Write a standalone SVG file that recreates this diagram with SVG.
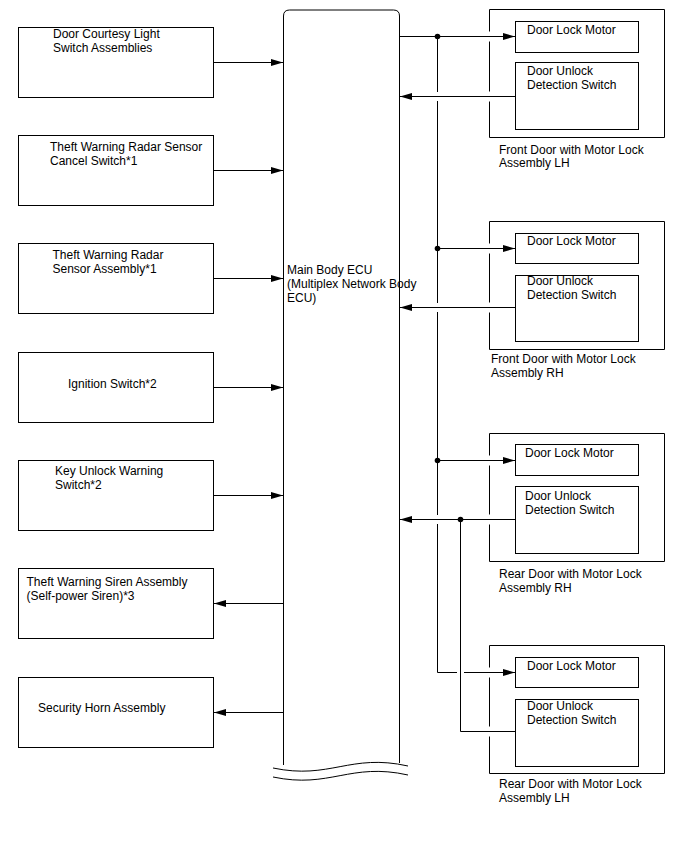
<svg xmlns="http://www.w3.org/2000/svg" width="688" height="852" viewBox="0 0 688 852">
<style>
.bx{fill:none;stroke:#000;stroke-width:1}
.ln{fill:none;stroke:#000;stroke-width:1}
.t{font-family:"Liberation Sans",Arial,sans-serif;font-size:12px;fill:#000}
.dot{fill:#000}
</style>
<defs>
<marker id="ah" markerUnits="userSpaceOnUse" markerWidth="13" markerHeight="8" refX="12" refY="4" orient="auto" viewBox="0 0 13 8">
<path d="M0,0.5 L12,4 L0,7.5 Z" fill="#000"/>
</marker>
</defs>
<rect width="688" height="852" fill="#fff"/>

<g id="ecu">
<path class="ln" d="M283.5,765 V16 Q283.5,10 289.5,10 H393.5 Q399.5,10 399.5,16 V763"/>
<path class="ln" d="M273,768 C330,780 350,753 408,766"/>
<path class="ln" d="M273,777 C330,789 350,762 408,775"/>
<text class="t" x="287" y="273.5">Main Body ECU</text>
<text class="t" x="287" y="287.5">(Multiplex Network Body</text>
<text class="t" x="287" y="301.5">ECU)</text>
</g>

<g id="door-courtesy">
<rect class="bx" x="18.5" y="27.5" width="195" height="70"/>
<text class="t" x="53" y="38">Door Courtesy Light</text>
<text class="t" x="53" y="52">Switch Assemblies</text>
</g>
<g id="radar-cancel">
<rect class="bx" x="18.5" y="135.5" width="195" height="70"/>
<text class="t" x="50" y="150.5">Theft Warning Radar Sensor</text>
<text class="t" x="50" y="164.5">Cancel Switch*1</text>
</g>
<g id="radar-sensor">
<rect class="bx" x="18.5" y="243.5" width="195" height="70"/>
<text class="t" x="52.5" y="258.5">Theft Warning Radar</text>
<text class="t" x="52.5" y="272.5">Sensor Assembly*1</text>
</g>
<g id="ignition">
<rect class="bx" x="18.5" y="352.5" width="195" height="70"/>
<text class="t" x="68" y="387.5">Ignition Switch*2</text>
</g>
<g id="key-unlock">
<rect class="bx" x="18.5" y="460.5" width="195" height="70"/>
<text class="t" x="55" y="475">Key Unlock Warning</text>
<text class="t" x="55" y="489">Switch*2</text>
</g>
<g id="siren">
<rect class="bx" x="18.5" y="568.5" width="195" height="70"/>
<text class="t" x="26.5" y="585.5">Theft Warning Siren Assembly</text>
<text class="t" x="26.5" y="599.5">(Self-power Siren)*3</text>
</g>
<g id="horn">
<rect class="bx" x="18.5" y="677.5" width="195" height="70"/>
<text class="t" x="38" y="711.5">Security Horn Assembly</text>
</g>

<g id="front-lh">
<path class="bx" d="M489.5,31.5 V9.5 H664.5 V137.5 H489.5 V101.5 M489.5,91.5 V41.5"/>
<rect class="bx" x="515.5" y="21.5" width="123" height="31"/>
<rect class="bx" x="515.5" y="62.5" width="123" height="67"/>
<text class="t" x="527" y="34">Door Lock Motor</text>
<text class="t" x="527" y="75">Door Unlock</text>
<text class="t" x="527" y="89">Detection Switch</text>
<text class="t" x="499" y="153.5">Front Door with Motor Lock</text>
<text class="t" x="499" y="167">Assembly LH</text>
</g>
<g id="front-rh">
<path class="bx" d="M489.5,243.5 V221.5 H664.5 V349.5 H489.5 V312.5 M489.5,302.5 V253.5"/>
<rect class="bx" x="515.5" y="233.5" width="123" height="30"/>
<rect class="bx" x="515.5" y="275.5" width="123" height="66"/>
<text class="t" x="527" y="244.5">Door Lock Motor</text>
<text class="t" x="527" y="284.5">Door Unlock</text>
<text class="t" x="527" y="298.5">Detection Switch</text>
<text class="t" x="491" y="363">Front Door with Motor Lock</text>
<text class="t" x="491" y="377">Assembly RH</text>
</g>
<g id="rear-rh">
<path class="bx" d="M489.5,455.5 V433.5 H664.5 V561.5 H489.5 V524.5 M489.5,514.5 V465.5"/>
<rect class="bx" x="515.5" y="444.5" width="123" height="31"/>
<rect class="bx" x="515.5" y="486.5" width="123" height="67"/>
<text class="t" x="525" y="457">Door Lock Motor</text>
<text class="t" x="525" y="499.5">Door Unlock</text>
<text class="t" x="525" y="513.5">Detection Switch</text>
<text class="t" x="499" y="577.5">Rear Door with Motor Lock</text>
<text class="t" x="499" y="591.5">Assembly RH</text>
</g>
<g id="rear-lh">
<path class="bx" d="M489.5,667.5 V645.5 H664.5 V773.5 H489.5 V736.5 M489.5,726.5 V677.5"/>
<rect class="bx" x="515.5" y="657.5" width="123" height="30"/>
<rect class="bx" x="515.5" y="699.5" width="123" height="67"/>
<text class="t" x="527" y="669.5">Door Lock Motor</text>
<text class="t" x="527" y="710">Door Unlock</text>
<text class="t" x="527" y="724">Detection Switch</text>
<text class="t" x="499" y="787.5">Rear Door with Motor Lock</text>
<text class="t" x="499" y="801.5">Assembly LH</text>
</g>

<g id="connectors">
<line class="ln" x1="213.5" y1="62.5" x2="283" y2="62.5" marker-end="url(#ah)"/>
<line class="ln" x1="213.5" y1="170.5" x2="283" y2="170.5" marker-end="url(#ah)"/>
<line class="ln" x1="213.5" y1="278.5" x2="283" y2="278.5" marker-end="url(#ah)"/>
<line class="ln" x1="213.5" y1="387.5" x2="283" y2="387.5" marker-end="url(#ah)"/>
<line class="ln" x1="213.5" y1="495.5" x2="283" y2="495.5" marker-end="url(#ah)"/>
<line class="ln" x1="283.5" y1="603.5" x2="214" y2="603.5" marker-end="url(#ah)"/>
<line class="ln" x1="283.5" y1="712.5" x2="214" y2="712.5" marker-end="url(#ah)"/>

<line class="ln" x1="399.5" y1="36.5" x2="515" y2="36.5" marker-end="url(#ah)"/>
<path class="ln" d="M437.5,36.5 V92 M437.5,101 V303 M437.5,312 V515 M437.5,524 V672.5 H457"/>
<line class="ln" x1="464" y1="672.5" x2="515" y2="672.5" marker-end="url(#ah)"/>
<line class="ln" x1="437.5" y1="248.5" x2="515" y2="248.5" marker-end="url(#ah)"/>
<line class="ln" x1="437.5" y1="460.5" x2="515" y2="460.5" marker-end="url(#ah)"/>

<line class="ln" x1="515.5" y1="96.5" x2="400" y2="96.5" marker-end="url(#ah)"/>
<line class="ln" x1="515.5" y1="307.5" x2="400" y2="307.5" marker-end="url(#ah)"/>
<line class="ln" x1="515.5" y1="519.5" x2="400" y2="519.5" marker-end="url(#ah)"/>
<path class="ln" d="M460.5,519.5 V731.5 H515.5"/>

<circle class="dot" cx="437.5" cy="36.5" r="2.8"/>
<circle class="dot" cx="437.5" cy="248.5" r="2.8"/>
<circle class="dot" cx="437.5" cy="460.5" r="2.8"/>
<circle class="dot" cx="460.5" cy="519.5" r="2.8"/>
</g>
</svg>
